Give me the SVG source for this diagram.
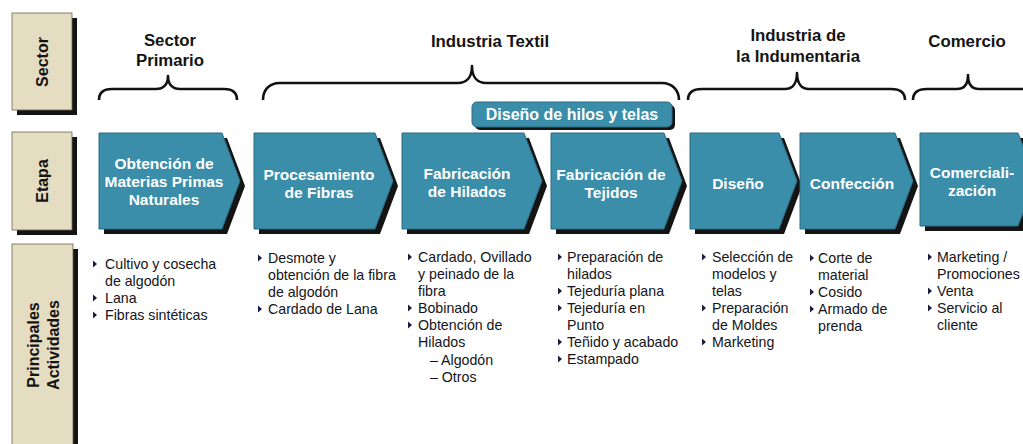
<svg xmlns="http://www.w3.org/2000/svg" width="1023" height="444" viewBox="0 0 1023 444">
<style>
.lbl{fill:#e4ddc1;stroke:#6a6552;stroke-width:0.8}
.shd{fill:#141414}
.node{fill:#3b8ea9;stroke:#2a6a80;stroke-width:1}
.lt{font-family:"Liberation Sans",Arial,sans-serif;font-weight:bold;font-size:16px;fill:#141414;text-anchor:middle}
.nt{font-family:"Liberation Sans",Arial,sans-serif;font-weight:bold;font-size:15.5px;fill:#ffffff;text-anchor:middle}
.hd{font-family:"Liberation Sans",Arial,sans-serif;font-weight:bold;font-size:16.8px;fill:#141414;text-anchor:middle}
.bt{font-family:"Liberation Sans",Arial,sans-serif;font-size:14.2px;fill:#141420}
.brace{fill:none;stroke:#111;stroke-width:2.6;stroke-linejoin:round}
.bul{fill:#1c1c40}
</style>
<defs>
<path id="b" d="M0,-3.5 L4,0 L0,3.5 Z"/>
</defs>
<rect width="1023" height="444" fill="#ffffff"/>

<g id="label-sector">
<rect class="shd" x="17" y="18" width="60" height="97"/>
<rect class="lbl" x="12" y="13" width="60" height="97"/>
<text class="lt" transform="translate(48,62) rotate(-90)">Sector</text>
</g>
<g id="label-etapa">
<rect class="shd" x="17" y="137" width="60" height="98"/>
<rect class="lbl" x="12" y="132" width="60" height="98"/>
<text class="lt" transform="translate(48,181) rotate(-90)">Etapa</text>
</g>
<g id="label-actividades">
<rect class="shd" x="17" y="249" width="61" height="210"/>
<rect class="lbl" x="12" y="244" width="61" height="210"/>
<text class="lt" transform="translate(39,345) rotate(-90)">Principales</text>
<text class="lt" transform="translate(59,345) rotate(-90)">Actividades</text>
</g>

<g id="braces">
<path class="brace" d="M99,100 C99,93 103,89 112,89 L156,89 C163,89 168,85 168,76 C168,85 173,89 180,89 L224,89 C233,89 237,93 237,100"/>
<path class="brace" d="M263,100 C263,91 268,83 280,83 L458,83 C466,83 472,78 472,66 C472,78 478,83 486,83 L662,83 C673,83 679,91 679,100"/>
<path class="brace" d="M688,100 C688,93 692,89 702,89 L785,89 C792,89 797,84 797,73 C797,84 802,89 809,89 L891,89 C901,89 905,93 905,100"/>
<path class="brace" d="M913,100 C913,93 917,89 927,89 L957,89 C964,89 968,85 968,75 C968,85 972,89 979,89 L1023,89"/>
</g>

<g id="headers">
<text class="hd" x="170" y="46">Sector</text>
<text class="hd" x="170" y="66">Primario</text>
<text class="hd" x="490" y="47">Industria Textil</text>
<text class="hd" x="798" y="41">Industria de</text>
<text class="hd" x="798" y="62">la Indumentaria</text>
<text class="hd" x="967" y="47">Comercio</text>
</g>

<g id="pill-diseno-hilos">
<rect class="shd" x="475" y="105" width="200" height="25" rx="5"/>
<rect class="node" x="472" y="102" width="200" height="25" rx="5"/>
<text class="nt" x="572" y="120" style="font-size:16px">Diseño de hilos y telas</text>
</g>

<g id="node-obtencion">
<path class="shd" d="M104,138 L227,138 L245,186 L227,234 L104,234 Z"/>
<path class="node" d="M99,133 L222,133 L240,181 L222,229 L99,229 Z"/>
<text class="nt" x="164" y="169">Obtención de</text>
<text class="nt" x="164" y="187">Materias Primas</text>
<text class="nt" x="164" y="205">Naturales</text>
</g>
<g id="node-procesamiento">
<path class="shd" d="M259,138 L380,138 L398,186 L380,234 L259,234 Z"/>
<path class="node" d="M254,133 L375,133 L393,181 L375,229 L254,229 Z"/>
<text class="nt" x="319" y="180">Procesamiento</text>
<text class="nt" x="319" y="198">de Fibras</text>
</g>
<g id="node-hilados">
<path class="shd" d="M407,138 L529,138 L547,186 L529,234 L407,234 Z"/>
<path class="node" d="M402,133 L524,133 L542,181 L524,229 L402,229 Z"/>
<text class="nt" x="467" y="179">Fabricación</text>
<text class="nt" x="467" y="197">de Hilados</text>
</g>
<g id="node-tejidos">
<path class="shd" d="M556,138 L669,138 L687,186 L669,234 L556,234 Z"/>
<path class="node" d="M551,133 L664,133 L682,181 L664,229 L551,229 Z"/>
<text class="nt" x="611" y="180">Fabricación de</text>
<text class="nt" x="611" y="198">Tejidos</text>
</g>
<g id="node-diseno">
<path class="shd" d="M695,138 L784,138 L802,186 L784,234 L695,234 Z"/>
<path class="node" d="M690,133 L779,133 L797,181 L779,229 L690,229 Z"/>
<text class="nt" x="738" y="189">Diseño</text>
</g>
<g id="node-confeccion">
<path class="shd" d="M805,138 L900,138 L918,186 L900,234 L805,234 Z"/>
<path class="node" d="M800,133 L895,133 L913,181 L895,229 L800,229 Z"/>
<text class="nt" x="852" y="189">Confección</text>
</g>
<g id="node-comercializacion">
<path class="shd" d="M925,138 L1023,138 L1041,184 L1023,231 L925,231 Z"/>
<path class="node" d="M920,133 L1018,133 L1036,179 L1018,226 L920,226 Z"/>
<text class="nt" x="972" y="178">Comerciali-</text>
<text class="nt" x="972" y="196">zación</text>
</g>

<g id="act-obtencion">
<use href="#b" class="bul" x="93" y="264"/>
<text class="bt" x="105" y="269">Cultivo y cosecha</text>
<text class="bt" x="105" y="286">de algodón</text>
<use href="#b" class="bul" x="93" y="298"/>
<text class="bt" x="105" y="303">Lana</text>
<use href="#b" class="bul" x="93" y="315"/>
<text class="bt" x="105" y="320">Fibras sintéticas</text>
</g>
<g id="act-procesamiento">
<use href="#b" class="bul" x="258" y="258"/>
<text class="bt" x="268" y="263">Desmote y</text>
<text class="bt" x="268" y="280">obtención de la fibra</text>
<text class="bt" x="268" y="297">de algodón</text>
<use href="#b" class="bul" x="258" y="309"/>
<text class="bt" x="268" y="314">Cardado de Lana</text>
</g>
<g id="act-hilados">
<use href="#b" class="bul" x="408" y="257"/>
<text class="bt" x="418" y="262">Cardado, Ovillado</text>
<text class="bt" x="418" y="279">y peinado de la</text>
<text class="bt" x="418" y="296">fibra</text>
<use href="#b" class="bul" x="408" y="308"/>
<text class="bt" x="418" y="313">Bobinado</text>
<use href="#b" class="bul" x="408" y="325"/>
<text class="bt" x="418" y="330">Obtención de</text>
<text class="bt" x="418" y="347">Hilados</text>
<text class="bt" x="430" y="365">– Algodón</text>
<text class="bt" x="430" y="382">– Otros</text>
</g>
<g id="act-tejidos">
<use href="#b" class="bul" x="558" y="257"/>
<text class="bt" x="567" y="262">Preparación de</text>
<text class="bt" x="567" y="279">hilados</text>
<use href="#b" class="bul" x="558" y="291"/>
<text class="bt" x="567" y="296">Tejeduría plana</text>
<use href="#b" class="bul" x="558" y="308"/>
<text class="bt" x="567" y="313">Tejeduría en</text>
<text class="bt" x="567" y="330">Punto</text>
<use href="#b" class="bul" x="558" y="342"/>
<text class="bt" x="567" y="347">Teñido y acabado</text>
<use href="#b" class="bul" x="558" y="359"/>
<text class="bt" x="567" y="364">Estampado</text>
</g>
<g id="act-diseno">
<use href="#b" class="bul" x="702" y="257"/>
<text class="bt" x="712" y="262">Selección de</text>
<text class="bt" x="712" y="279">modelos y</text>
<text class="bt" x="712" y="296">telas</text>
<use href="#b" class="bul" x="702" y="308"/>
<text class="bt" x="712" y="313">Preparación</text>
<text class="bt" x="712" y="330">de Moldes</text>
<use href="#b" class="bul" x="702" y="342"/>
<text class="bt" x="712" y="347">Marketing</text>
</g>
<g id="act-confeccion">
<use href="#b" class="bul" x="810" y="258"/>
<text class="bt" x="818" y="263">Corte de</text>
<text class="bt" x="818" y="280">material</text>
<use href="#b" class="bul" x="810" y="292"/>
<text class="bt" x="818" y="297">Cosido</text>
<use href="#b" class="bul" x="810" y="309"/>
<text class="bt" x="818" y="314">Armado de</text>
<text class="bt" x="818" y="331">prenda</text>
</g>
<g id="act-comercializacion">
<use href="#b" class="bul" x="928" y="257"/>
<text class="bt" x="937" y="262">Marketing /</text>
<text class="bt" x="937" y="279">Promociones</text>
<use href="#b" class="bul" x="928" y="291"/>
<text class="bt" x="937" y="296">Venta</text>
<use href="#b" class="bul" x="928" y="308"/>
<text class="bt" x="937" y="313">Servicio al</text>
<text class="bt" x="937" y="330">cliente</text>
</g>
</svg>
